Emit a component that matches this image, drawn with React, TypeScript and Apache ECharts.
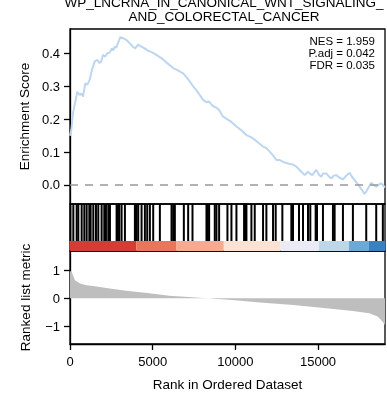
import React, { useEffect, useRef } from 'react';
import * as echarts from 'echarts';

const titleLines = ['WP_LNCRNA_IN_CANONICAL_WNT_SIGNALING_', 'AND_COLORECTAL_CANCER'];
const statLines = ['NES = 1.959', 'P.adj = 0.042', 'FDR = 0.035'];
const esTicks = [0, 0.1, 0.2, 0.3, 0.4];
const metricTicks = [-1, 0, 1];
const rankTicks = [0, 5000, 10000, 15000];
const totalRank = 19050;

const esCurve: [number, number][] = [
  [0, 0.15], [80, 0.168], [180, 0.218], [322, 0.254], [443, 0.284], [584, 0.274], [685, 0.279],
  [785, 0.269], [926, 0.31], [1047, 0.305], [1188, 0.32], [1329, 0.35], [1490, 0.376], [1651, 0.381],
  [1792, 0.371], [1900, 0.378], [1993, 0.396], [2134, 0.391], [2255, 0.401], [2396, 0.403],
  [2537, 0.416], [2620, 0.41], [2698, 0.421], [2800, 0.418], [2899, 0.432], [3040, 0.45],
  [3201, 0.447], [3402, 0.442], [3603, 0.432], [3805, 0.421], [3946, 0.416], [4107, 0.427],
  [4268, 0.423], [4509, 0.416], [4711, 0.409], [4872, 0.406], [5073, 0.401], [5315, 0.393],
  [5617, 0.383], [5878, 0.371], [6240, 0.356], [6500, 0.35], [6840, 0.34], [7050, 0.328],
  [7250, 0.315], [7450, 0.3], [7650, 0.288], [7850, 0.274], [8050, 0.259], [8253, 0.252],
  [8414, 0.254], [8600, 0.242], [8857, 0.235], [9018, 0.228], [9260, 0.208], [9521, 0.2],
  [9763, 0.192], [10065, 0.178], [10400, 0.165], [10670, 0.152], [10971, 0.145], [11172, 0.138],
  [11450, 0.126], [11675, 0.117], [11877, 0.112], [12100, 0.1], [12279, 0.09], [12480, 0.076],
  [12683, 0.076], [12900, 0.07], [13288, 0.064], [13487, 0.062], [13690, 0.056], [13900, 0.045],
  [14193, 0.03], [14392, 0.04], [14495, 0.035], [14650, 0.03], [14899, 0.046], [15050, 0.032],
  [15200, 0.025], [15300, 0.035], [15502, 0.035], [15650, 0.026], [15804, 0.02], [15950, 0.028],
  [16106, 0.03], [16300, 0.022], [16509, 0.017], [16700, 0.028], [16911, 0.037], [17050, 0.025],
  [17213, 0.015], [17515, -0.005], [17817, -0.027], [17915, -0.02], [18219, 0.007], [18400, -0.002],
  [18521, -0.005], [18650, 0.0], [18823, 0.005], [18920, 0.0], [19050, -0.008],
];

const hitRanks = [
  30, 201, 403, 503, 705, 866, 1007, 1168, 1248, 1409, 1570, 1711, 1912, 2073, 2174, 2315, 2416,
  2818, 2899, 2979, 3120, 3321, 3925, 3986, 4026, 4126, 4328, 4529, 4670, 4831, 5032, 5435,
  6140, 6241, 6341, 6885, 7146, 7408, 8253, 8334, 8414, 8756, 8857, 9018, 9521, 9763, 10065,
  10528, 10608, 10669, 10971, 11172, 11675, 11877, 12279, 12440, 12843, 13386, 13487, 13849,
  14090, 14392, 14533, 14856, 14936, 15298, 15902, 16003, 16506, 17109, 17915, 18519, 18920,
];

const metricCurve: [number, number][] = [
  [0, 0.98], [100, 0.94], [300, 0.65], [600, 0.53], [1000, 0.47], [1400, 0.44], [2400, 0.35],
  [3400, 0.27], [4800, 0.18], [6000, 0.09], [7400, 0.035], [8300, 0], [9800, -0.06],
  [11500, -0.15], [13500, -0.235], [15500, -0.35], [17100, -0.45], [18100, -0.53],
  [18600, -0.65], [18900, -0.83], [19050, -0.95],
];

const stripBlocks: [number, number][] = [
  [0, 4005], [4005, 6420], [6420, 9300], [9300, 12744], [12744, 15058], [15058, 16870],
  [16870, 18078], [18078, 19050],
];
const stripColors = ['#d63c37', '#ea745d', '#f5aa91', '#fde1d3', '#ebebf6', '#bdd6e8', '#6ea9d5', '#3b80c0'];

const FONT = 'Liberation Sans, Arial, sans-serif';
const STRIP_TOP = 10 / 47;

export default function App() {
  const ref = useRef<HTMLDivElement>(null);
  useEffect(() => {
    if (!ref.current) return;
    const chart = echarts.init(ref.current, undefined, { renderer: 'svg' });
    const baseX = {
      type: 'value' as const,
      min: 0,
      max: totalRank,
      axisLine: { show: false, onZero: false },
      axisTick: { show: false },
      axisLabel: { show: false },
      splitLine: { show: false },
    };
    chart.setOption({
      animation: false,
      textStyle: { fontFamily: FONT },
      grid: [
        { left: 70, right: 2, top: 29, height: 175, show: true, borderColor: '#000', borderWidth: 1.3 },
        { left: 70, right: 2, top: 204, height: 47, show: true, borderColor: '#000', borderWidth: 1.3 },
        { left: 70, right: 2, top: 251, height: 93, show: true, borderColor: '#000', borderWidth: 1.3 },
      ],
      xAxis: [
        { ...baseX, gridIndex: 0 },
        { ...baseX, gridIndex: 1 },
        {
          ...baseX,
          gridIndex: 2,
          axisLine: { show: true, onZero: false, lineStyle: { color: '#000', width: 1.3 } },
          axisTick: { show: true, length: 6, customValues: rankTicks, lineStyle: { color: '#000', width: 1.3 } },
          axisLabel: {
            show: true,
            customValues: rankTicks,
            margin: 11,
            color: '#000',
            fontSize: 13,
            fontFamily: FONT,
            formatter: (v: number) => String(v),
          },
          name: 'Rank in Ordered Dataset',
          nameLocation: 'middle',
          nameGap: 33,
          nameTextStyle: { color: '#000', fontSize: 13.5, fontFamily: FONT },
        },
      ],
      yAxis: [
        {
          type: 'value',
          gridIndex: 0,
          min: -0.058,
          max: 0.475,
          splitLine: { show: false },
          axisLine: { show: true, onZero: false, lineStyle: { color: '#000', width: 1.3 } },
          axisTick: { show: true, length: 6, customValues: esTicks, lineStyle: { color: '#000', width: 1.3 } },
          axisLabel: {
            customValues: esTicks,
            margin: 10,
            color: '#000',
            fontSize: 13,
            fontFamily: FONT,
            formatter: (v: number) => v.toFixed(1),
          },
          name: 'Enrichment Score',
          nameLocation: 'middle',
          nameGap: 38,
          nameTextStyle: { color: '#000', fontSize: 13.5, fontFamily: FONT },
        },
        {
          type: 'value',
          gridIndex: 1,
          min: 0,
          max: 1,
          splitLine: { show: false },
          axisLine: { show: false, onZero: false },
          axisTick: { show: false },
          axisLabel: { show: false },
        },
        {
          type: 'value',
          gridIndex: 2,
          min: -1.63,
          max: 1.69,
          splitLine: { show: false },
          axisLine: { show: true, onZero: false, lineStyle: { color: '#000', width: 1.3 } },
          axisTick: { show: true, length: 6, customValues: metricTicks, lineStyle: { color: '#000', width: 1.3 } },
          axisLabel: {
            customValues: metricTicks,
            margin: 10,
            color: '#000',
            fontSize: 13,
            fontFamily: FONT,
            formatter: (v: number) => (v < 0 ? '\u2212' + Math.abs(v) : String(v)),
          },
          name: 'Ranked list metric',
          nameLocation: 'middle',
          nameGap: 38,
          nameTextStyle: { color: '#000', fontSize: 13.5, fontFamily: FONT },
        },
      ],
      series: [
        {
          type: 'line',
          xAxisIndex: 0,
          yAxisIndex: 0,
          data: esCurve,
          showSymbol: false,
          lineStyle: { color: '#bdd6ef', width: 2 },
          markLine: {
            silent: true,
            symbol: 'none',
            label: { show: false },
            lineStyle: { color: '#999999', width: 1.5, type: [8, 7] },
            data: [{ yAxis: 0 }],
          },
          z: 3,
        },
        {
          type: 'custom',
          xAxisIndex: 1,
          yAxisIndex: 1,
          data: stripBlocks.map((b, i) => [b[0], b[1], i]),
          renderItem: (params: any, api: any) => {
            const p0 = api.coord([api.value(0), STRIP_TOP]);
            const p1 = api.coord([api.value(1), 0]);
            return {
              type: 'rect',
              shape: { x: p0[0], y: p0[1], width: p1[0] - p0[0], height: p1[1] - p0[1] },
              style: { fill: stripColors[api.value(2)] },
            };
          },
          z: 2,
        },
        {
          type: 'custom',
          xAxisIndex: 1,
          yAxisIndex: 1,
          data: hitRanks.map((r) => [r]),
          renderItem: (params: any, api: any) => {
            const top = api.coord([api.value(0), 1]);
            const bot = api.coord([api.value(0), STRIP_TOP]);
            return {
              type: 'line',
              shape: { x1: top[0], y1: top[1], x2: bot[0], y2: bot[1] },
              style: { stroke: '#000', lineWidth: 2 },
            };
          },
          z: 3,
        },
        {
          type: 'line',
          xAxisIndex: 2,
          yAxisIndex: 2,
          data: metricCurve,
          showSymbol: false,
          lineStyle: { width: 0 },
          areaStyle: { color: '#bebebe', opacity: 1 },
          z: 2,
        },
      ],
      graphic: [
        ...titleLines.map((t, i) => ({
          type: 'text',
          x: 224,
          y: 2 + i * 14.7,
          style: {
            text: t,
            fill: '#000',
            font: `13.5px ${FONT}`,
            textAlign: 'center',
            textVerticalAlign: 'middle',
          },
        })),
        ...statLines.map((t, i) => ({
          type: 'text',
          x: 375,
          y: 41 + i * 12,
          style: {
            text: t,
            fill: '#000',
            font: `11.5px ${FONT}`,
            textAlign: 'right',
            textVerticalAlign: 'middle',
          },
          z: 10,
        })),
      ],
    });
    return () => chart.dispose();
  }, []);
  return <div ref={ref} style={{ position: 'fixed', left: 0, top: 0, width: 387, height: 394 }} />;
}
